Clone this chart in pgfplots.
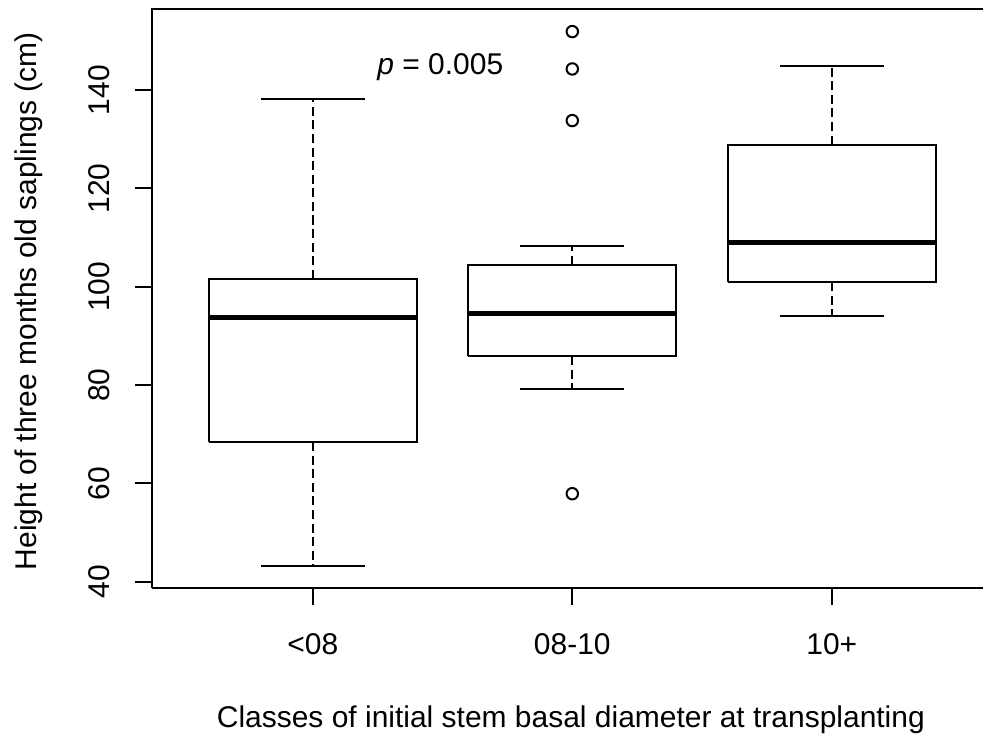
\documentclass[border=0pt]{standalone}
\usepackage{fontspec}
\setmainfont{Liberation Sans}
\usepackage{pgfplots}
\pgfplotsset{compat=1.18}

\newcommand{\labfont}{\fontsize{22.5}{27}\selectfont}

\pgfplotsset{
  boxline/.style={black, line width=1.5pt, no marks},
  whisk/.style={black, line width=1.5pt, no marks, dash pattern=on 6.8pt off 3.4pt},
  med/.style={black, line width=4pt, no marks},
}

\begin{document}
\begin{tikzpicture}
% page extent
\path (-114pt,-111.75pt) rectangle (624pt,441.75pt);
\begin{axis}[
  scale only axis, width=624pt, height=435pt,
  xmin=0.38, xmax=3.5825, ymin=38.64, ymax=156.5,
  axis lines*=left,
  axis line style={line width=1.5pt, black},
  tick style={line width=1.5pt, black},
  major tick length=12.75pt,
  tick align=outside,
  tick pos=left,
  xtick={1,2,3},
  xticklabels={{<08},{08-10},{10+}},
  ytick={40,60,80,100,120,140},
  /pgf/number format/assume math mode=true,
  ticklabel style={font=\labfont},
  xticklabel style={anchor=base, yshift=-36.75pt},
  yticklabel style={xshift=-18.75pt, rotate=90, anchor=base},
  clip=false,
]
% class <08: whiskers 43.1 / 138.2, quartiles 68.4 / 101.6, median 93.7
\addplot[whisk] coordinates {(1,68.4) (1,43.1)};
\addplot[whisk] coordinates {(1,101.6) (1,138.2)};
\addplot[boxline] coordinates {(0.8,43.1) (1.2,43.1)};
\addplot[boxline] coordinates {(0.8,138.2) (1.2,138.2)};
\addplot[boxline] coordinates {(0.6,68.4) (1.4,68.4) (1.4,101.6) (0.6,101.6) (0.6,68.4)};
\addplot[med] coordinates {(0.6,93.7) (1.4,93.7)};
% class 08-10: whiskers 79.1 / 108.2, quartiles 85.9 / 104.5, median 94.5
\addplot[whisk] coordinates {(2,85.9) (2,79.1)};
\addplot[whisk] coordinates {(2,104.5) (2,108.2)};
\addplot[boxline] coordinates {(1.8,79.1) (2.2,79.1)};
\addplot[boxline] coordinates {(1.8,108.2) (2.2,108.2)};
\addplot[boxline] coordinates {(1.6,85.9) (2.4,85.9) (2.4,104.5) (1.6,104.5) (1.6,85.9)};
\addplot[med] coordinates {(1.6,94.5) (2.4,94.5)};
% class 10+: whiskers 94.1 / 145.0, quartiles 100.9 / 128.9, median 109.0
\addplot[whisk] coordinates {(3,100.9) (3,94.1)};
\addplot[whisk] coordinates {(3,128.9) (3,145.0)};
\addplot[boxline] coordinates {(2.8,94.1) (3.2,94.1)};
\addplot[boxline] coordinates {(2.8,145.0) (3.2,145.0)};
\addplot[boxline] coordinates {(2.6,100.9) (3.4,100.9) (3.4,128.9) (2.6,128.9) (2.6,100.9)};
\addplot[med] coordinates {(2.6,109.0) (3.4,109.0)};
% outliers of the 08-10 class
\addplot[only marks, mark=o, mark size=4.3pt, line width=1.5pt, black]
  coordinates {(2,151.9) (2,144.3) (2,133.8) (2,57.9)};
\node[font=\labfont, anchor=base west, inner sep=0pt] at (axis cs:1.248,143.1) {\textit{p} = 0.005};
% top frame line
\draw[black, line width=1.5pt] ([xshift=-0.75pt]rel axis cs:0,1) -- (rel axis cs:1,1);
\end{axis}
\node[font=\labfont, rotate=90, anchor=base] at (-86.25pt,215.6pt) {Height of three months old saplings (cm)};
\node[font=\labfont, anchor=base] at (314.6pt,-104.25pt) {Classes of initial stem basal diameter at transplanting};
\end{tikzpicture}
\end{document}
